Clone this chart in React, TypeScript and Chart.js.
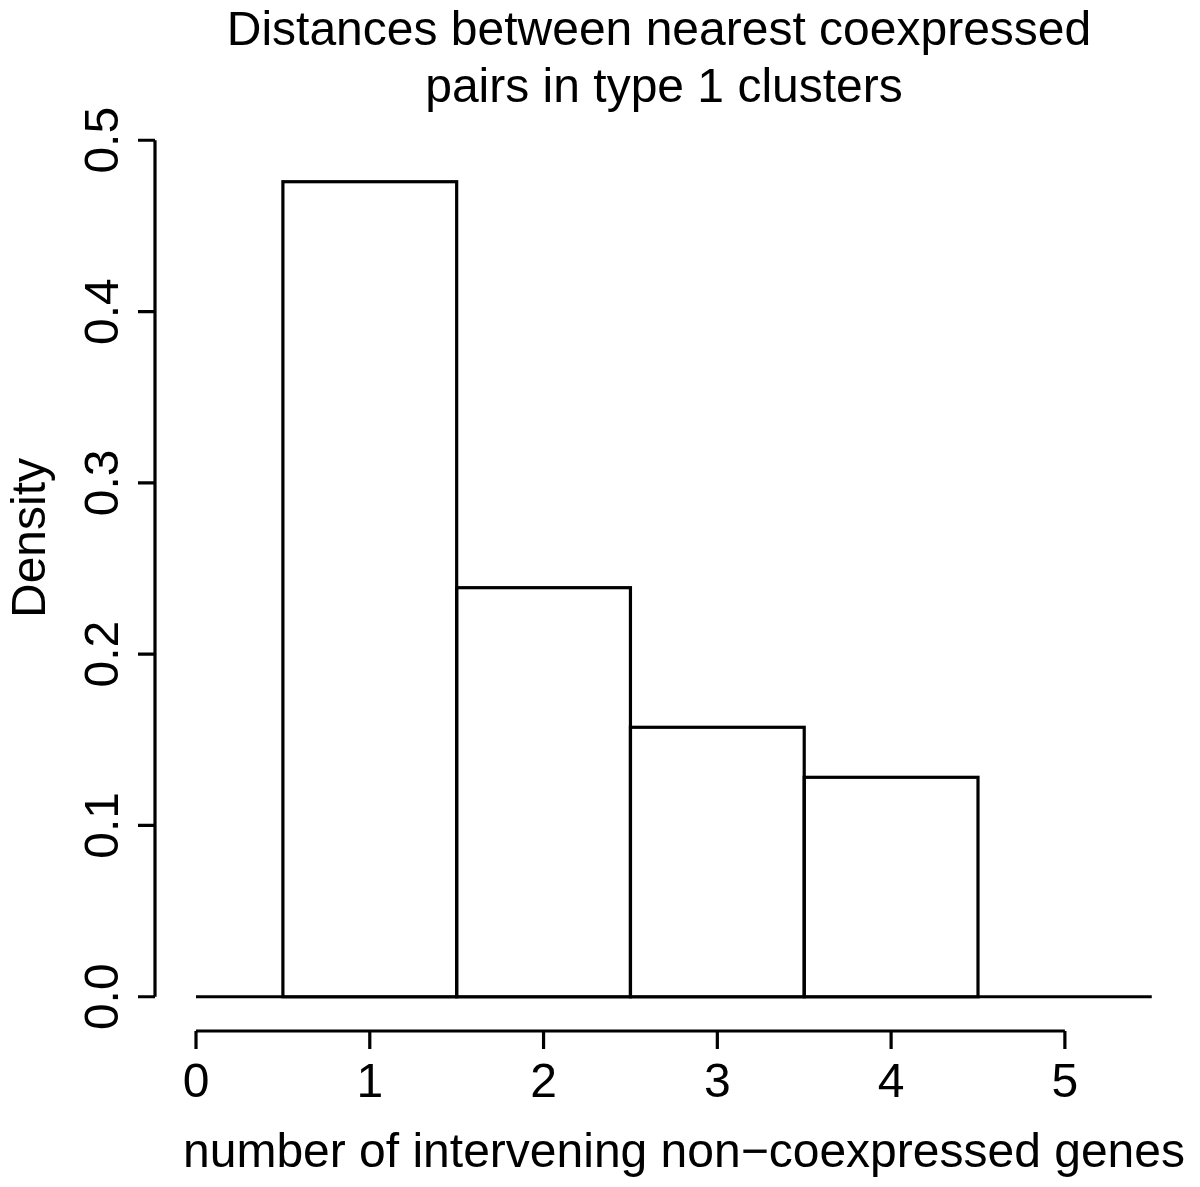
import React, { useEffect, useRef } from "react";
import { Chart, registerables } from "chart.js";

Chart.register(...registerables);

// Histogram data (bin edges and densities)
const binEdges = [0, 0.5, 1.5, 2.5, 3.5, 4.5, 5.5];
const densities = [0, 0.4758, 0.2388, 0.1573, 0.1281, 0];
const xTicks = [0, 1, 2, 3, 4, 5];
const yTicks = [0, 0.1, 0.2, 0.3, 0.4, 0.5];
const yTickLabels = ["0.0", "0.1", "0.2", "0.3", "0.4", "0.5"];
const titleLines = ["Distances between nearest coexpressed", "pairs in type 1 clusters"];
const xLabel = "number of intervening non\u2212coexpressed genes";
const yLabel = "Density";

const FONT = '"Liberation Sans", Arial, Helvetica, sans-serif';

export default function App() {
  const ref = useRef<HTMLCanvasElement | null>(null);

  useEffect(() => {
    document.body.style.margin = "0";
    const canvas = ref.current;
    if (!canvas) return;

    const barPoints = binEdges
      .slice(0, -1)
      .map((l, i) => ({ x: (l + binEdges[i + 1]) / 2, y: densities[i] }))
      .filter((p) => p.y > 0);

    const baseline = [
      { x: binEdges[0], y: 0 },
      { x: binEdges[binEdges.length - 1], y: 0 },
    ];

    const rPlot = {
      id: "rplot",
      afterDatasetsDraw(chart: any) {
        const ctx = chart.ctx;
        const meta = chart.getDatasetMeta(1);
        ctx.save();
        ctx.strokeStyle = "#000";
        ctx.lineWidth = 3.2;
        ctx.lineJoin = "miter";
        meta.data.forEach((el: any) => {
          const p = el.getProps(["x", "y", "base", "width"], true);
          ctx.strokeRect(p.x - p.width / 2, p.y, p.width, p.base - p.y);
        });
        ctx.restore();
      },
      afterDraw(chart: any) {
        const ctx = chart.ctx;
        const xs = chart.scales.x;
        const ys = chart.scales.y;
        const area = chart.chartArea;
        ctx.save();
        ctx.strokeStyle = "#000";
        ctx.fillStyle = "#000";
        ctx.lineWidth = 3.2;
        ctx.lineCap = "butt";

        // y axis
        const ax = area.left;
        const y0 = ys.getPixelForValue(yTicks[0]);
        const y1 = ys.getPixelForValue(yTicks[yTicks.length - 1]);
        ctx.beginPath();
        ctx.moveTo(ax, y0);
        ctx.lineTo(ax, y1);
        yTicks.forEach((t) => {
          const py = ys.getPixelForValue(t);
          ctx.moveTo(ax, py);
          ctx.lineTo(ax - 17, py);
        });
        ctx.stroke();

        ctx.font = `48px ${FONT}`;
        ctx.textAlign = "center";
        ctx.textBaseline = "alphabetic";
        yTicks.forEach((t, i) => {
          const py = ys.getPixelForValue(t);
          ctx.save();
          ctx.translate(118, py);
          ctx.rotate(-Math.PI / 2);
          ctx.fillText(yTickLabels[i], 0, 0);
          ctx.restore();
        });

        // x axis
        const ay = area.bottom;
        const x0 = xs.getPixelForValue(xTicks[0]);
        const x1 = xs.getPixelForValue(xTicks[xTicks.length - 1]);
        ctx.beginPath();
        ctx.moveTo(x0, ay);
        ctx.lineTo(x1, ay);
        xTicks.forEach((t) => {
          const px = xs.getPixelForValue(t);
          ctx.moveTo(px, ay);
          ctx.lineTo(px, ay + 18);
        });
        ctx.stroke();
        xTicks.forEach((t) => {
          const px = xs.getPixelForValue(t);
          ctx.fillText(String(t), px, 1097);
        });

        // titles
        ctx.fillText(titleLines[0], 659, 45);
        ctx.fillText(titleLines[1], 664, 102);
        ctx.fillText(xLabel, 684, 1167);

        ctx.save();
        ctx.translate(45, 538);
        ctx.rotate(-Math.PI / 2);
        ctx.fillText(yLabel, 0, 0);
        ctx.restore();

        ctx.restore();
      },
    };

    const chart = new Chart(canvas, {
      type: "bar",
      data: {
        datasets: [
          {
            type: "line",
            data: baseline,
            borderColor: "#000",
            borderWidth: 3.2,
            pointRadius: 0,
            fill: false,
            order: 2,
          } as any,
          {
            type: "bar",
            data: barPoints,
            backgroundColor: "#fff",
            borderWidth: 0,
            barPercentage: 1,
            categoryPercentage: 1,
            grouped: false,
            order: 1,
          } as any,
        ],
      },
      options: {
        responsive: false,
        animation: false,
        events: [],
        datasets: { bar: { barPercentage: 1, categoryPercentage: 1 } } as any,
        layout: { padding: { left: 155, right: 10, top: 106, bottom: 156 } },
        plugins: { legend: { display: false }, tooltip: { enabled: false }, title: { display: false } },
        scales: {
          x: {
            type: "linear",
            min: -0.236,
            max: 5.72,
            display: false,
            offset: false,
            ticks: { includeBounds: false, stepSize: 1 },
          },
          y: { type: "linear", min: -0.02, max: 0.52, display: false },
        },
      } as any,
      plugins: [rPlot],
    });

    return () => chart.destroy();
  }, []);

  return (
    <div style={{ width: 1200, height: 1187, background: "#fff" }}>
      <canvas ref={ref} width={1200} height={1187} style={{ display: "block" }} />
    </div>
  );
}
